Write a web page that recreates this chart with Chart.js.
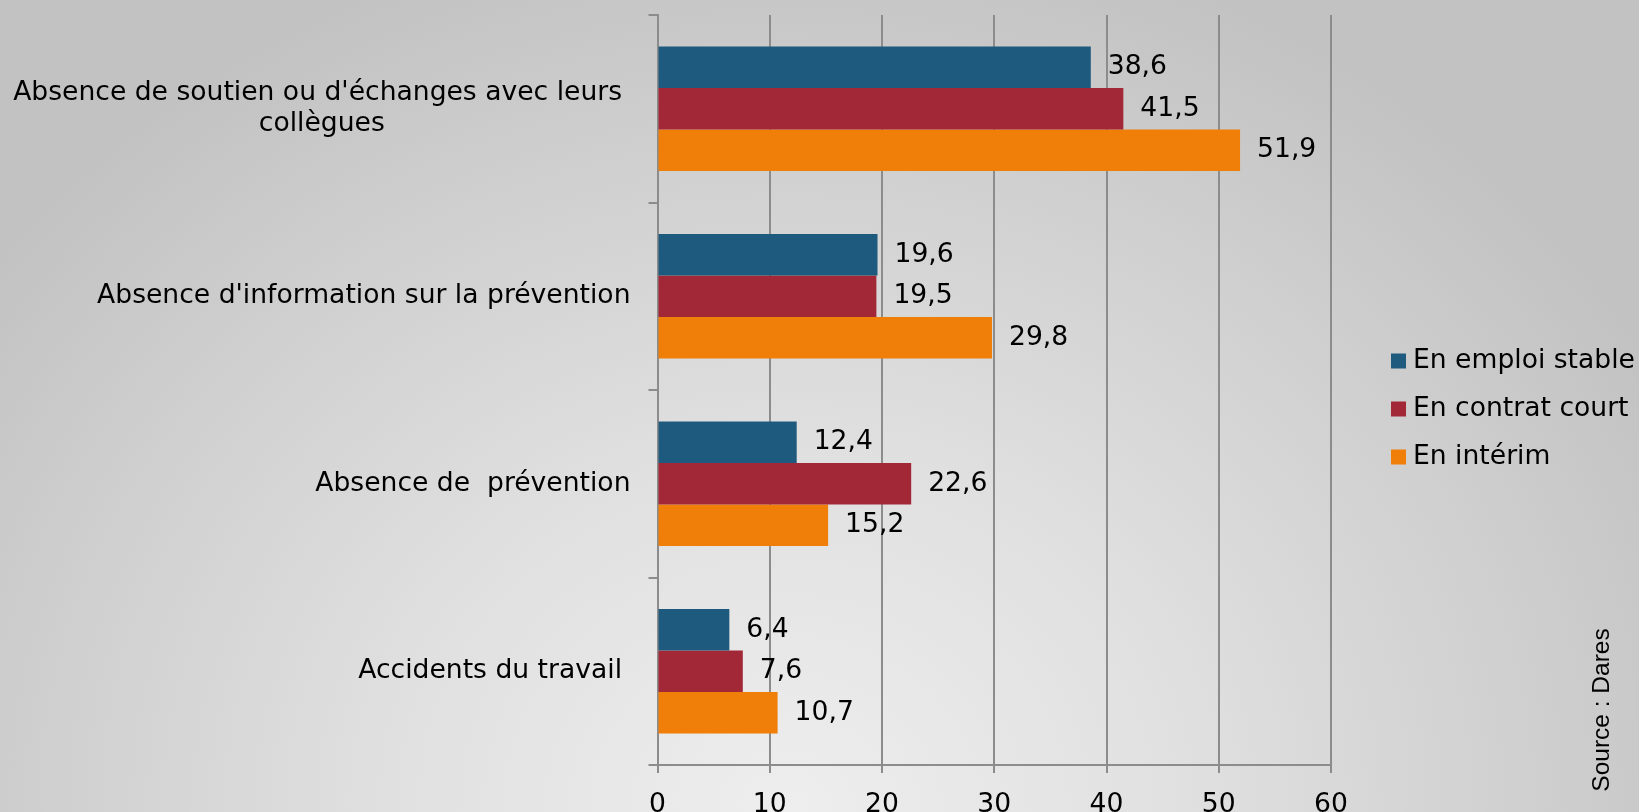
<!DOCTYPE html>
<html>
<head>
<meta charset="utf-8">
<script src="https://cdn.jsdelivr.net/npm/chart.js@4.4.0/dist/chart.umd.min.js"></script>
<style>
html, body { margin: 0; padding: 0; }
body {
    width: 1639px; height: 812px; overflow: hidden;
    background: radial-gradient(ellipse 1000px 900px at 48% 100%, #eeeeee 0%, #e0e0e0 40%, #cfcfcf 75%, #c2c2c2 100%);
}
#wrap { position: relative; width: 1639px; height: 812px; }
</style>
</head>
<body>
<div id="wrap"><canvas id="chart"></canvas></div>
<script>
const categories = [
    ["Absence de soutien ou d'échanges avec leurs ", "collègues"],
    "Absence d'information sur la prévention",
    "Absence de  prévention",
    "Accidents du travail "
];
const seriesNames = ['En emploi stable', 'En contrat court', 'En intérim'];
const emploiStable = [38.6, 19.6, 12.4, 6.4];
const contratCourt = [41.5, 19.5, 22.6, 7.6];
const interim = [51.9, 29.8, 15.2, 10.7];
const xMin = 0, xMax = 60, xStep = 10;
const sourceText = 'Source : Dares';

const colors = ['#1e5a7d', '#a22838', '#f07f0a'];
const gridColor = '#8c8c8c';
const FONT = '"DejaVu Sans", Verdana, sans-serif';
const FS = 26.6;

// category labels, drawn by hand so the 2-line one is centred
const yLabels = {
    id: 'yLabels',
    afterDraw(chart) {
        const ctx = chart.ctx, y = chart.scales.y;
        ctx.save();
        ctx.font = FS + 'px ' + FONT;
        ctx.fillStyle = '#000';
        ctx.textBaseline = 'middle';
        ctx.textAlign = 'center';
        const right = chart.chartArea.left - 27;
        categories.forEach((lab, i) => {
            const lines = Array.isArray(lab) ? lab : [lab];
            const cy = y.getPixelForTick(i);
            const w = Math.max(...lines.map(l => ctx.measureText(l).width));
            lines.forEach((l, j) => {
                ctx.fillText(l, right - w / 2, cy + (j - (lines.length - 1) / 2) * 30.5);
            });
        });
        ctx.restore();
    }
};

const valueLabels = {
    id: 'valueLabels',
    afterDatasetsDraw(chart) {
        const ctx = chart.ctx;
        ctx.save();
        ctx.font = FS + 'px ' + FONT;
        ctx.fillStyle = '#000';
        ctx.textAlign = 'left';
        ctx.textBaseline = 'middle';
        chart.data.datasets.forEach((ds, i) => {
            chart.getDatasetMeta(i).data.forEach((bar, j) => {
                ctx.fillText(ds.data[j].toFixed(1).replace('.', ','), bar.x + 17, bar.y);
            });
        });
        ctx.restore();
    }
};

const sideLegend = {
    id: 'sideLegend',
    afterDraw(chart) {
        const ctx = chart.ctx;
        ctx.save();
        ctx.font = FS + 'px ' + FONT;
        ctx.textBaseline = 'middle';
        ctx.textAlign = 'left';
        chart.data.datasets.forEach((ds, i) => {
            const cy = 361 + i * 48;
            ctx.fillStyle = ds.backgroundColor;
            ctx.fillRect(1391, cy - 7.5, 15, 15);
            ctx.fillStyle = '#000';
            ctx.fillText(ds.label, 1413, cy);
        });
        // source, rotated
        ctx.translate(1602, 710);
        ctx.rotate(-Math.PI / 2);
        ctx.font = '24.5px "Liberation Sans", Arial, sans-serif';
        ctx.textAlign = 'center';
        ctx.fillText(sourceText, 0, 0);
        ctx.restore();
    }
};

new Chart(document.getElementById('chart'), {
    type: 'bar',
    data: {
        labels: categories,
        datasets: [
            { label: seriesNames[0], data: emploiStable, backgroundColor: colors[0] },
            { label: seriesNames[1], data: contratCourt, backgroundColor: colors[1] },
            { label: seriesNames[2], data: interim, backgroundColor: colors[2] }
        ]
    },
    options: {
        indexAxis: 'y',
        responsive: true,
        maintainAspectRatio: false,
        animation: false,
        layout: { padding: { top: 15, right: 308, left: 0, bottom: 0 } },
        datasets: { bar: { categoryPercentage: 0.664, barPercentage: 1, borderWidth: 0 } },
        plugins: {
            legend: { display: false },
            tooltip: { enabled: false }
        },
        scales: {
            x: {
                min: xMin, max: xMax,
                ticks: { stepSize: xStep, color: '#000', font: { family: FONT, size: FS }, padding: 16 },
                grid: { color: gridColor, lineWidth: 2, tickLength: 8 },
                border: { color: gridColor, width: 2 },
                afterFit: s => { s.height = 47; }
            },
            y: {
                ticks: { display: false },
                grid: { drawOnChartArea: false, color: gridColor, lineWidth: 2, tickLength: 9, offset: true },
                border: { color: gridColor, width: 2 },
                afterFit: s => { s.width = 657.5; }
            }
        }
    },
    plugins: [yLabels, valueLabels, sideLegend]
});
</script>
</body>
</html>
